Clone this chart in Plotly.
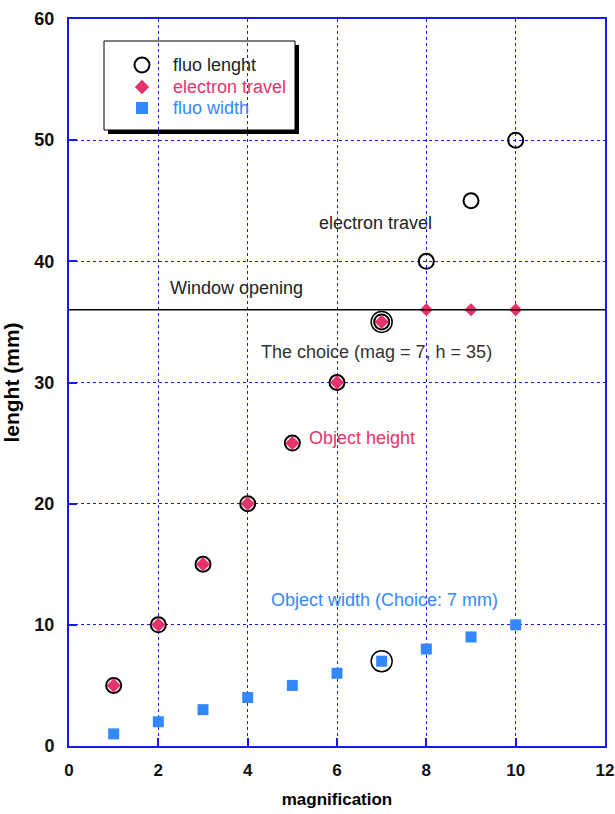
import plotly.graph_objects as go

mag = [1, 2, 3, 4, 5, 6, 7, 8, 9, 10]
fluo_length = [5, 10, 15, 20, 25, 30, 35, 40, 45, 50]
electron_travel = [5, 10, 15, 20, 25, 30, 35, 36, 36, 36]
fluo_width = [1, 2, 3, 4, 5, 6, 7, 8, 9, 10]
choice_x = [7, 7]
choice_y = [35, 7]
window_opening = 36
legend_names = ["fluo lenght", "electron travel", "fluo width"]

BLUE_AX = "#1a1ae6"
RED = "#e8336a"
LBLUE = "#3388ff"
FONT = "Liberation Sans"

# plot-area pixel frame used for placing paper-anchored items
L, R, T, B = 69, 605, 19, 746
def px(x):
    return (x - L) / (R - L)
def py(y):
    return (B - y) / (B - T)

fig = go.Figure()
fig.add_trace(go.Scatter(x=mag, y=fluo_length, mode="markers", name=legend_names[0], showlegend=False,
                         marker=dict(symbol="circle-open", size=15, color="black", line=dict(width=2))))
fig.add_trace(go.Scatter(x=mag[:7], y=electron_travel[:7], mode="markers", name=legend_names[1], showlegend=False,
                         marker=dict(symbol="diamond", size=11, color=RED)))
fig.add_trace(go.Scatter(x=mag[7:], y=electron_travel[7:], mode="markers", showlegend=False,
                         marker=dict(symbol="diamond", size=10, color=RED)))
fig.add_trace(go.Scatter(x=mag, y=fluo_width, mode="markers", name=legend_names[2], showlegend=False,
                         marker=dict(symbol="square", size=11, color=LBLUE)))
fig.add_trace(go.Scatter(x=choice_x, y=choice_y, mode="markers", showlegend=False,
                         marker=dict(symbol="circle-open", size=21, color="black", line=dict(width=1.5))))

# window opening line
fig.add_shape(type="line", xref="x", yref="y", x0=0, x1=12, y0=window_opening, y1=window_opening,
              line=dict(color="black", width=1.5))

# legend box with shadow (above grid, below traces)
fig.add_shape(type="rect", xref="paper", yref="paper", x0=px(108), x1=px(299), y0=py(134), y1=py(45),
              fillcolor="black", line=dict(width=0), layer="between")
fig.add_shape(type="rect", xref="paper", yref="paper", x0=px(104), x1=px(295), y0=py(130), y1=py(41),
              fillcolor="white", line=dict(color="black", width=1), layer="between")

# legend symbols on an overlay axis (0..1 over the plot area)
leg_y = [65, 87, 108]
fig.add_trace(go.Scatter(x=[px(142)], y=[py(leg_y[0])], xaxis="x2", yaxis="y2", mode="markers", showlegend=False,
                         hoverinfo="skip", marker=dict(symbol="circle-open", size=15, color="black", line=dict(width=2))))
fig.add_trace(go.Scatter(x=[px(142)], y=[py(leg_y[1])], xaxis="x2", yaxis="y2", mode="markers", showlegend=False,
                         hoverinfo="skip", marker=dict(symbol="diamond", size=11, color=RED)))
fig.add_trace(go.Scatter(x=[px(142)], y=[py(leg_y[2])], xaxis="x2", yaxis="y2", mode="markers", showlegend=False,
                         hoverinfo="skip", marker=dict(symbol="square", size=12, color=LBLUE)))
for name, yy, col in zip(legend_names, leg_y, ["#222222", RED, LBLUE]):
    fig.add_annotation(x=px(171), y=py(yy), xref="paper", yref="paper", xanchor="left", yanchor="middle",
                       text=name, showarrow=False, font=dict(family=FONT, size=18, color=col))

ann = [
    (375, 211, "electron travel", "#222222"),
    (168, 288, "Window opening", "#222222"),
    (494, 352, "The choice (mag = 7, h = 35)", "#333333"),
    (362, 438, "Object height", RED),
    (384, 612, "Object width (Choice: 7 mm)", LBLUE),
]
for x0, y0, txt, col in ann:
    fig.add_annotation(x=px(x0), y=py(y0), xref="paper", yref="paper",
                       text=txt, showarrow=False, font=dict(family=FONT, size=18, color=col))

fig.update_layout(
    width=615, height=814,
    margin=dict(l=69, r=10, t=19, b=68, autoexpand=False),
    paper_bgcolor="white", plot_bgcolor="white",
    font=dict(family=FONT, color="black"),
    showlegend=False,
    xaxis2=dict(overlaying="x", range=[0, 1], visible=False, fixedrange=True),
    yaxis2=dict(overlaying="y", range=[0, 1], visible=False, fixedrange=True),
)
fig.layout.xaxis.update(range=[0, 12], dtick=2, tick0=0, showline=True, linecolor=BLUE_AX, linewidth=2,
                 mirror=True, ticks="inside", ticklen=8, tickcolor=BLUE_AX, tickwidth=2,
                 showgrid=True, gridcolor=BLUE_AX, griddash="dot", gridwidth=1, zeroline=False,
                 automargin=False, ticklabelstandoff=8, ticklabeloverflow="allow",
                 tickfont=dict(family=FONT, size=17, color="#111111", weight="bold"),
                 title=dict(text="<b>magnification</b>", font=dict(family=FONT, size=17), standoff=14))
fig.layout.yaxis.update(range=[0, 60], dtick=10, tick0=0, showline=True, linecolor=BLUE_AX, linewidth=2,
                 mirror=True, ticks="inside", ticklen=8, tickcolor=BLUE_AX, tickwidth=2,
                 showgrid=True, gridcolor=BLUE_AX, griddash="dot", gridwidth=1, zeroline=False,
                 automargin=False, ticklabelstandoff=9, ticklabeloverflow="allow",
                 tickfont=dict(family=FONT, size=18, color="#111111", weight="bold"),
                 title=dict(text="<b>lenght (mm)</b>", font=dict(family=FONT, size=21), standoff=14))

# remove the default 8px page margin so the 615x814 figure fills the window exactly
fig.write_html("out.html", config={"displayModeBar": False},
               post_script="document.body.style.margin='0';")
